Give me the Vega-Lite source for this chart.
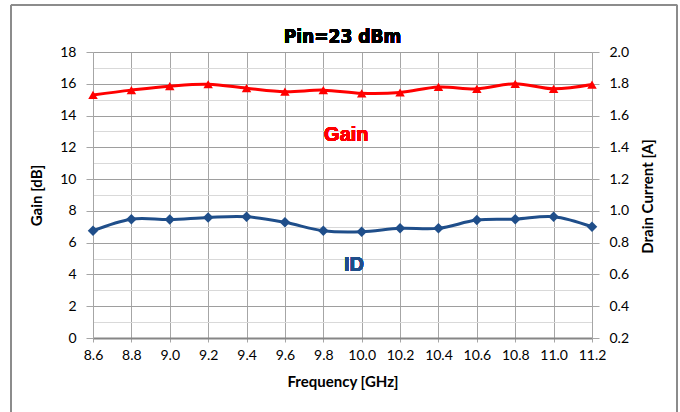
{
  "$schema": "https://vega.github.io/schema/vega-lite/v6.json",
  "autosize": {"type": "none"},
  "width": 499,
  "height": 286,
  "padding": {"left": 93, "top": 52, "right": 88, "bottom": 74},
  "background": "white",
  "config": {"view": {"stroke": null}},
  "data": {"values": [
    {"freq": 8.6, "gain": 15.3, "id": 0.875},
    {"freq": 8.8, "gain": 15.6, "id": 0.948},
    {"freq": 9.0, "gain": 15.85, "id": 0.946},
    {"freq": 9.2, "gain": 15.97, "id": 0.959},
    {"freq": 9.4, "gain": 15.72, "id": 0.963},
    {"freq": 9.6, "gain": 15.5, "id": 0.928},
    {"freq": 9.8, "gain": 15.6, "id": 0.875},
    {"freq": 10.0, "gain": 15.4, "id": 0.869},
    {"freq": 10.2, "gain": 15.45, "id": 0.89},
    {"freq": 10.4, "gain": 15.8, "id": 0.89},
    {"freq": 10.6, "gain": 15.68, "id": 0.942},
    {"freq": 10.8, "gain": 16.0, "id": 0.948},
    {"freq": 11.0, "gain": 15.68, "id": 0.963},
    {"freq": 11.2, "gain": 15.95, "id": 0.9}
  ]},
  "encoding": {
    "x": {
      "field": "freq", "type": "quantitative",
      "scale": {"domain": [8.6, 11.2], "nice": false, "zero": false},
      "axis": {
        "values": [8.6, 8.8, 9.0, 9.2, 9.4, 9.6, 9.8, 10.0, 10.2, 10.4, 10.6, 10.8, 11.0, 11.2],
        "format": ".1f", "title": "Frequency [GHz]",
        "labelOverlap": false, "labelFlush": false,
        "grid": true, "gridColor": "#a6a6a6", "gridWidth": 1,
        "domainColor": "#868686", "domainWidth": 2,
        "tickColor": "#a6a6a6", "tickSize": 4,
        "labelFont": "Lato", "labelFontSize": 14, "labelColor": "#000000", "labelPadding": 6,
        "titleFont": "Lato", "titleFontSize": 15, "titleFontWeight": "bold", "titleColor": "#000000", "titlePadding": 12
      }
    }
  },
  "layer": [
    {
      "encoding": {
        "y": {
          "field": "gain", "type": "quantitative",
          "scale": {"domain": [0, 18], "nice": false, "zero": false},
          "axis": {
            "values": [0, 2, 4, 6, 8, 10, 12, 14, 16, 18],
            "title": "Gain [dB]", "grid": false, "labelOverlap": false, "labelFlush": false,
            "domainColor": "#a6a6a6", "domainWidth": 1,
            "tickColor": "#a6a6a6", "tickSize": 7,
            "labelFont": "Lato", "labelFontSize": 14, "labelColor": "#000000", "labelPadding": 10,
            "titleFont": "Lato", "titleFontSize": 15, "titleFontWeight": "bold", "titleColor": "#000000",
            "titleAngle": 270, "titleX": -57, "titleY": 143, "titleBaseline": "middle", "titleAlign": "center"
          }
        }
      },
      "layer": [
        {
          "mark": {"type": "rect", "fill": null, "stroke": "#8c8c8c", "strokeWidth": 1, "clip": false},
          "encoding": {
            "x": {"datum": 8.173},
            "x2": {"datum": 11.643},
            "y": {"datum": 20.96},
            "y2": {"datum": -6}
          }
        },
        {
          "mark": {"type": "text", "text": "Pin=23 dBm", "font": "DejaVu Sans Condensed, Liberation Sans, sans-serif", "fontSize": 19, "fontWeight": "bold", "color": "#000000", "align": "center", "baseline": "middle"},
          "encoding": {"x": {"datum": 9.9}, "y": {"datum": 18.94}}
        },
        {"mark": {"type": "line", "color": "#ff0000", "strokeWidth": 3, "interpolate": "catmull-rom"}},
        {"mark": {"type": "point", "shape": "triangle-up", "filled": true, "color": "#ff0000", "size": 90, "opacity": 1}},
        {
          "mark": {"type": "text", "text": "Gain", "font": "Liberation Sans", "fontSize": 20, "fontWeight": "bold", "color": "#ff0000", "align": "center", "baseline": "middle"},
          "encoding": {"x": {"datum": 9.92}, "y": {"datum": 12.78}}
        },
        {
          "mark": {"type": "text", "text": "ID", "font": "Liberation Sans", "fontSize": 20, "fontWeight": "bold", "color": "#1f4e8a", "align": "center", "baseline": "middle"},
          "encoding": {"x": {"datum": 9.96}, "y": {"datum": 4.6}}
        }
      ]
    },
    {
      "encoding": {
        "y": {
          "field": "id", "type": "quantitative",
          "scale": {"domain": [0.2, 2.0], "nice": false, "zero": false},
          "axis": {
            "orient": "right",
            "values": [0.2, 0.3, 0.4, 0.5, 0.6, 0.7, 0.8, 0.9, 1.0, 1.1, 1.2, 1.3, 1.4, 1.5, 1.6, 1.7, 1.8, 1.9, 2.0],
            "labelExpr": "round(datum.value*10) % 2 == 0 ? format(datum.value, '.1f') : ''",
            "labelOverlap": false, "labelFlush": false,
            "title": "Drain Current [A]",
            "grid": true,
            "gridColor": {"condition": {"test": "round(datum.value*10) % 2 == 0", "value": "#9e9e9e"}, "value": "#d9d9d9"},
            "gridWidth": 1,
            "domainColor": "#a6a6a6", "domainWidth": 1,
            "tickColor": {"condition": {"test": "round(datum.value*10) % 2 == 0", "value": "#a6a6a6"}, "value": "transparent"},
            "tickSize": 7,
            "labelFont": "Lato", "labelFontSize": 14, "labelColor": "#000000", "labelPadding": 10,
            "titleFont": "Lato", "titleFontSize": 15, "titleFontWeight": "bold", "titleColor": "#000000",
            "titleAngle": 270, "titleX": 55, "titleY": 144, "titleBaseline": "middle", "titleAlign": "center"
          }
        }
      },
      "layer": [
        {"mark": {"type": "line", "color": "#1f4e8a", "strokeWidth": 3, "interpolate": "catmull-rom"}},
        {"mark": {"type": "point", "shape": "diamond", "filled": true, "color": "#1f4e8a", "size": 110, "opacity": 1}}
      ]
    }
  ],
  "resolve": {"scale": {"y": "independent"}}
}
